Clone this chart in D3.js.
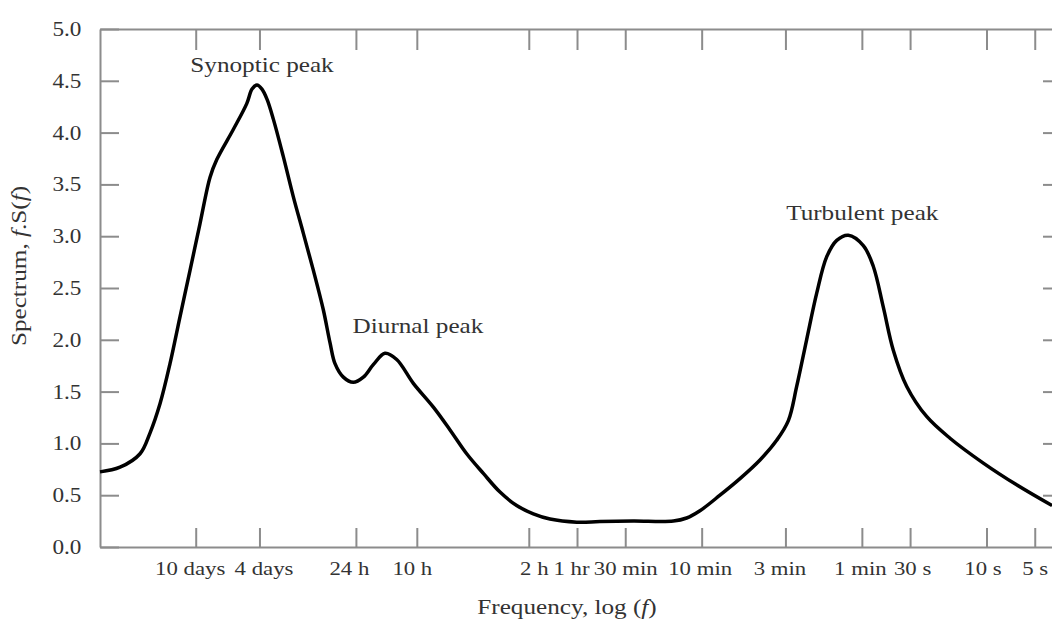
<!DOCTYPE html>
<meta charset="utf-8">
<style>
body { margin: 0; background: #fff; }
svg { display: block; }
.axis path, .axis line { stroke: #8c8c8c; stroke-width: 2px; }
.axis text, .label { font-family: "Liberation Serif", "Times New Roman", serif; fill: #333; }
.curve { fill: none; stroke: #000; stroke-width: 3.5px; stroke-linejoin: round; }
</style>
<svg width="1052" height="622"></svg>
<script src="https://d3js.org/d3.v7.min.js"></script>
<script>

// spectrum curve, x as log10 of frequency (Hz), y as f.S(f)
var logF = [-6.534, -6.409, -6.284, -6.222, -6.159, -6.097, -6.035, -5.972, -5.910, -5.847,
            -5.805, -5.702, -5.618, -5.585, -5.554, -5.523, -5.491, -5.452, -5.390, -5.327,
            -5.265, -5.202, -5.140, -5.098, -5.067, -5.015, -4.953, -4.890, -4.828, -4.755,
            -4.682, -4.578, -4.453, -4.349, -4.245, -4.141, -4.037, -3.933, -3.829, -3.725,
            -3.558, -3.413, -3.205, -2.955, -2.872, -2.789, -2.664, -2.539, -2.414, -2.310,
            -2.237, -2.185, -2.123, -2.060, -1.998, -1.935, -1.863, -1.769, -1.707, -1.645,
            -1.582, -1.498, -1.374, -1.228, -1.020, -0.812, -0.591];
var spectrum = [0.725, 0.77, 0.90, 1.10, 1.385, 1.77, 2.22, 2.67, 3.12, 3.57,
                3.74, 4.03, 4.28, 4.42, 4.46, 4.42, 4.32, 4.13, 3.77, 3.38,
                3.03, 2.67, 2.29, 1.97, 1.77, 1.64, 1.59, 1.64, 1.76, 1.87,
                1.81, 1.58, 1.35, 1.13, 0.90, 0.71, 0.53, 0.40, 0.32, 0.27,
                0.24, 0.245, 0.25, 0.25, 0.28, 0.35, 0.50, 0.66, 0.84, 1.03,
                1.22, 1.55, 2.00, 2.45, 2.80, 2.96, 3.01, 2.91, 2.71, 2.32,
                1.90, 1.55, 1.26, 1.05, 0.81, 0.60, 0.40];

// x ticks: period in seconds and its label
var tickPeriods = [864000, 345600, 86400, 36000, 7200, 3600, 1800, 600, 180, 60, 30, 10, 5];
var tickLabels = ["10 days", "4 days", "24 h", "10 h", "2 h", "1 hr", "30 min", "10 min", "3 min", "1 min", "30 s", "10 s", "5 s"];
var yTicks = [0, 0.5, 1, 1.5, 2, 2.5, 3, 3.5, 4, 4.5, 5];

// peak annotations
var peakNames = ["Synoptic peak", "Diurnal peak", "Turbulent peak"];
var peakLogF = [-5.554, -4.755, -1.863];
var peakValue = [4.46, 1.87, 3.01];

var svg = d3.select("svg"),
    plotLeft = 100, plotRight = 1053, plotTop = 29, plotBottom = 547;

var stretch = "scale(1.26,1)";

var x = d3.scaleLinear().domain([-6.534, -0.585]).range([plotLeft, plotRight]);
var y = d3.scaleLinear().domain([0, 5]).range([plotBottom, plotTop]);

var tickF = tickPeriods.map(function(p) { return Math.log10(1 / p); });

// small horizontal shifts of the bottom labels, as in the original figure
var labelNudge = [-6, 4, -7, -5, 5, -6, 0, -2, -6, -2, 2, -4, 0];

svg.append("g")
    .attr("class", "axis")
    .attr("transform", "translate(0," + plotBottom + ")")
    .call(d3.axisBottom(x).tickValues(tickF)
        .tickFormat(function(d, i) { return tickLabels[i]; })
        .tickSizeInner(-19).tickSizeOuter(0).tickPadding(15))
  .selectAll("text")
    .attr("font-size", 19)
    .attr("transform", function(d, i) { return "translate(" + labelNudge[i] + ",0)scale(1.2,1)"; });

svg.append("g")
    .attr("class", "axis")
    .attr("transform", "translate(0," + plotTop + ")")
    .call(d3.axisTop(x).tickValues(tickF).tickFormat("")
        .tickSizeInner(-21).tickSizeOuter(0));

svg.append("g")
    .attr("class", "axis")
    .attr("transform", "translate(" + plotLeft + ",0)")
    .call(d3.axisLeft(y).tickValues(yTicks).tickFormat(d3.format(".1f"))
        .tickSizeInner(-19).tickSizeOuter(0).tickPadding(16))
  .selectAll("text")
    .attr("font-size", 20)
    .attr("transform", "scale(1.16,1)");

svg.append("g")
    .attr("class", "axis")
    .attr("transform", "translate(" + plotRight + ",0)")
    .call(d3.axisRight(y).tickValues(yTicks.slice(1, -1)).tickFormat("")
        .tickSizeInner(-10).tickSizeOuter(0));

var line = d3.line()
    .x(function(d, i) { return x(logF[i]); })
    .y(function(d) { return y(d); })
    .curve(d3.curveCatmullRom.alpha(0.5));

svg.append("path")
    .attr("class", "curve")
    .attr("d", line(spectrum));

// peak labels
var labelDx = [5, 33, 14];
var labelDy = [-13, -20, -15];
svg.selectAll(".peak")
    .data(peakNames)
  .enter().append("text")
    .attr("class", "label peak")
    .attr("font-size", 20)
    .attr("text-anchor", "middle")
    .attr("transform", function(d, i) {
        return "translate(" + (x(peakLogF[i]) + labelDx[i]) + "," + (y(peakValue[i]) + labelDy[i]) + ")" + stretch;
    })
    .text(function(d) { return d; });

// axis titles
var xt = svg.append("text")
    .attr("class", "label")
    .attr("font-size", 20)
    .attr("text-anchor", "middle")
    .attr("transform", "translate(567,614)" + stretch);
xt.append("tspan").text("Frequency, log (");
xt.append("tspan").attr("font-style", "italic").text("f");
xt.append("tspan").text(")");

var yt = svg.append("text")
    .attr("class", "label")
    .attr("font-size", 20)
    .attr("text-anchor", "middle")
    .attr("transform", "translate(26,266)rotate(-90)" + stretch);
yt.append("tspan").text("Spectrum, ");
yt.append("tspan").attr("font-style", "italic").text("f");
yt.append("tspan").text(".S(");
yt.append("tspan").attr("font-style", "italic").text("f");
yt.append("tspan").text(")");

</script>
